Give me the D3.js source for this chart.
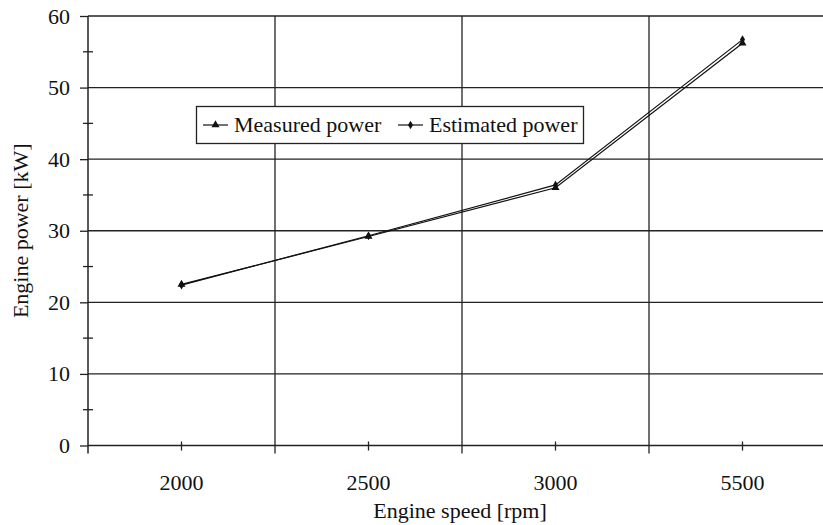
<!DOCTYPE html>
<html>
<head>
<meta charset="utf-8">
<script src="https://cdn.jsdelivr.net/npm/d3@7"></script>
<style>
  body { margin: 0; background: #fff; }
  text { font-family: "Liberation Serif", "Times New Roman", serif; fill: #111; }
</style>
</head>
<body>
<script>
// chart data
var speeds = ['2000', '2500', '3000', '5500'];
var measured = [22.5, 29.2, 36.0, 56.2];
var estimated = [22.4, 29.3, 36.4, 56.7];
var yTicks = [0, 10, 20, 30, 40, 50, 60];
var yMinor = [5, 15, 25, 35, 45, 55];

var width = 823, height = 525;
var pLeft = 88, pTop = 16, pBottom = 445.5, pRight = 836;

var svg = d3.select('body')
  .append('svg')
  .attr('width', width)
  .attr('height', height);

var x = d3.scaleBand()
  .domain(speeds)
  .range([pLeft, pRight])
  .paddingInner(0)
  .paddingOuter(0);

var y = d3.scaleLinear()
  .domain([0, 60])
  .range([pBottom, pTop]);

// horizontal grid
svg.selectAll('.hgrid')
  .data(yTicks.slice(1))
  .enter()
  .append('line')
  .attr('x1', pLeft)
  .attr('x2', pRight)
  .attr('y1', function(d) { return y(d); })
  .attr('y2', function(d) { return y(d); })
  .style('stroke', '#222')
  .style('stroke-width', 1.3);

// vertical grid at category boundaries
var bounds = speeds.slice(1).map(function(s) { return x(s); });
svg.selectAll('.vgrid')
  .data(bounds)
  .enter()
  .append('line')
  .attr('x1', function(d) { return d; })
  .attr('x2', function(d) { return d; })
  .attr('y1', pTop)
  .attr('y2', pBottom + 8)
  .style('stroke', '#222')
  .style('stroke-width', 1.3);

// y axis
var yAxis = svg.append('g')
  .attr('transform', 'translate(' + pLeft + ',0)')
  .call(d3.axisLeft(y).tickValues(yTicks).tickSize(8).tickPadding(10));
yAxis.select('.domain').remove();
yAxis.selectAll('line').style('stroke', '#222').style('stroke-width', 1.3);
yAxis.selectAll('text').style('font-size', '22px').attr('font-family', null);

svg.selectAll('.yminor')
  .data(yMinor)
  .enter()
  .append('line')
  .attr('x1', pLeft - 5)
  .attr('x2', pLeft + 5)
  .attr('y1', function(d) { return y(d); })
  .attr('y2', function(d) { return y(d); })
  .style('stroke', '#222')
  .style('stroke-width', 1.3);

svg.append('line')
  .attr('x1', pLeft).attr('x2', pLeft)
  .attr('y1', pTop).attr('y2', pBottom + 8)
  .style('stroke', '#222')
  .style('stroke-width', 1.5);

// x axis
var xAxis = svg.append('g')
  .attr('transform', 'translate(0,' + pBottom + ')')
  .call(d3.axisBottom(x).tickSizeInner(5).tickSizeOuter(0).tickPadding(24));
xAxis.select('.domain').remove();
xAxis.selectAll('line').attr('y1', -4).attr('y2', 5).style('stroke', '#222').style('stroke-width', 1.3);
xAxis.selectAll('text').style('font-size', '22px').attr('font-family', null);

svg.append('line')
  .attr('x1', pLeft).attr('x2', pRight)
  .attr('y1', pBottom).attr('y2', pBottom)
  .style('stroke', '#222')
  .style('stroke-width', 1.5);

// axis titles
svg.append('text')
  .attr('x', 460)
  .attr('y', 518)
  .attr('text-anchor', 'middle')
  .style('font-size', '22px')
  .text('Engine speed [rpm]');

svg.append('text')
  .attr('transform', 'translate(28,' + ((pTop + pBottom) / 2) + ') rotate(-90)')
  .attr('text-anchor', 'middle')
  .style('font-size', '22px')
  .text('Engine power [kW]');

// lines
var cx = function(i) { return x(speeds[i]) + x.bandwidth() / 2; };
var line = d3.line()
  .x(function(d, i) { return cx(i); })
  .y(function(d) { return y(d); });

svg.append('path')
  .datum(measured)
  .attr('d', line)
  .style('fill', 'none')
  .style('stroke', '#111')
  .style('stroke-width', 1.2);

svg.append('path')
  .datum(estimated)
  .attr('d', line)
  .style('fill', 'none')
  .style('stroke', '#111')
  .style('stroke-width', 1.2);

var tri = d3.symbol().type(d3.symbolTriangle).size(28);
var dia = d3.symbol().type(d3.symbolDiamond).size(22);

svg.selectAll('.mpt')
  .data(measured)
  .enter()
  .append('path')
  .attr('d', tri)
  .attr('transform', function(d, i) { return 'translate(' + cx(i) + ',' + y(d) + ')'; })
  .style('fill', '#111');

svg.selectAll('.ept')
  .data(estimated)
  .enter()
  .append('path')
  .attr('d', dia)
  .attr('transform', function(d, i) { return 'translate(' + cx(i) + ',' + y(d) + ')'; })
  .style('fill', '#111');

// legend
var lg = svg.append('g');
lg.append('rect')
  .attr('x', 196.5).attr('y', 106.5)
  .attr('width', 387).attr('height', 37)
  .style('fill', '#fff')
  .style('stroke', '#222')
  .style('stroke-width', 1.3);

var items = [
  { name: 'Measured power', x: 203, sym: tri },
  { name: 'Estimated power', x: 398, sym: dia }
];
items.forEach(function(it) {
  lg.append('line')
    .attr('x1', it.x).attr('x2', it.x + 25)
    .attr('y1', 125).attr('y2', 125)
    .style('stroke', '#111')
    .style('stroke-width', 1.2);
  lg.append('path')
    .attr('d', it.sym)
    .attr('transform', 'translate(' + (it.x + 12.5) + ',125)')
    .style('fill', '#111');
  lg.append('text')
    .attr('x', it.x + 31)
    .attr('y', 131.5)
    .style('font-size', '22px')
    .text(it.name);
});
</script>
</body>
</html>
